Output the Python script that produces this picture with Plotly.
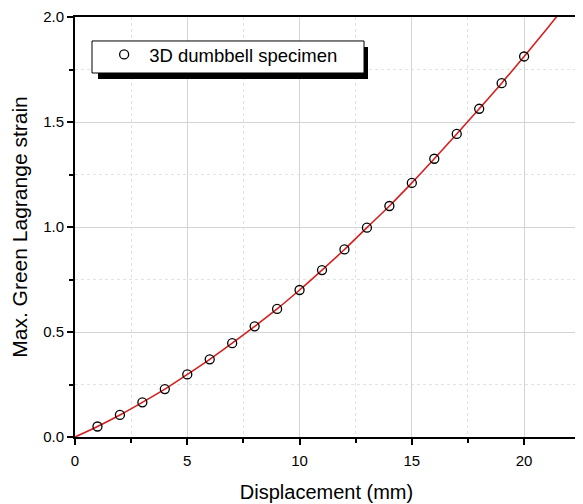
import plotly.graph_objects as go

# measured points
disp_mm = [1, 2, 3, 4, 5, 6, 7, 8, 9, 10, 11, 12, 13, 14, 15, 16, 17, 18, 19, 20]
max_strain = [0.050, 0.105, 0.165, 0.228, 0.298, 0.370, 0.447, 0.527, 0.610, 0.700,
              0.795, 0.893, 0.997, 1.100, 1.210, 1.325, 1.443, 1.563, 1.685, 1.812]

# fitted curve (red line)
fit_x = [0, 1, 2, 3, 4, 5, 6, 7, 8, 9, 10, 11, 12, 13, 14, 15, 16, 17, 18, 19, 20, 21, 22]
fit_y = [0.0, 0.050, 0.105, 0.165, 0.228, 0.298, 0.370, 0.447, 0.527, 0.610, 0.700,
         0.795, 0.893, 0.997, 1.100, 1.210, 1.325, 1.443, 1.563, 1.685, 1.812, 1.942, 2.075]

FONT = "Liberation Sans, Arial, sans-serif"

fig = go.Figure()

fig.add_trace(
    go.Scatter(
        x=fit_x,
        y=fit_y,
        mode='lines',
        line=dict(color='#d42020', width=1.6, shape='spline'),
        showlegend=False,
        hoverinfo='skip',
    )
)

fig.add_trace(
    go.Scatter(
        x=disp_mm,
        y=max_strain,
        mode='markers',
        marker=dict(symbol='circle-open', size=9, color='black', line=dict(width=1.3)),
        name='3D dumbbell specimen',
    )
)

# legend frame with drop shadow
fig.add_shape(
    type='rect', xref='paper', yref='paper',
    x0=0.0457, x1=0.5825, y0=0.8524, y1=0.9286,
    fillcolor='black', line=dict(width=0), layer='above',
)
fig.add_shape(
    type='rect', xref='paper', yref='paper',
    x0=0.0338, x1=0.5746, y0=0.8667, y1=0.9429,
    fillcolor='white', line=dict(color='black', width=1), layer='above',
)

axis_common = dict(
    showline=True,
    linecolor='black',
    linewidth=2,
    mirror=True,
    ticks='outside',
    ticklen=6,
    tickwidth=1.5,
    tickcolor='black',
    showgrid=True,
    gridcolor='#d4d4d4',
    gridwidth=1,
    zeroline=False,
    automargin=False,
    tickfont=dict(family=FONT, size=15, color='black'),
    minor=dict(ticks='outside', ticklen=4, tickcolor='black', showgrid=True,
               gridcolor='#e2e2e2', griddash='dot', gridwidth=1),
)

# page body has an 8px margin, so the figure is shrunk to fit the window
fig.update_layout(
    width=575,
    height=496,
    paper_bgcolor='white',
    plot_bgcolor='white',
    margin=dict(l=67, r=5, t=9, b=67),
    font=dict(family=FONT, color='black'),
    xaxis=dict(
        axis_common,
        range=[0, 22.4],
        tick0=0,
        dtick=5,
        minor_dtick=2.5,
        ticklabelstandoff=3,
        title=dict(text='Displacement (mm)', font=dict(family=FONT, size=20), standoff=17),
    ),
    yaxis=dict(
        axis_common,
        range=[0, 2.0],
        tick0=0,
        dtick=0.5,
        tickformat='.1f',
        minor_dtick=0.25,
        title=dict(text='Max. Green Lagrange strain', font=dict(family=FONT, size=21), standoff=12),
    ),
    legend=dict(
        x=0.048, y=0.955,
        xanchor='left', yanchor='top',
        bgcolor='rgba(0,0,0,0)',
        borderwidth=0,
        font=dict(family=FONT, size=18.5, color='black'),
        itemwidth=40,
    ),
)

fig.write_html("out.html")
